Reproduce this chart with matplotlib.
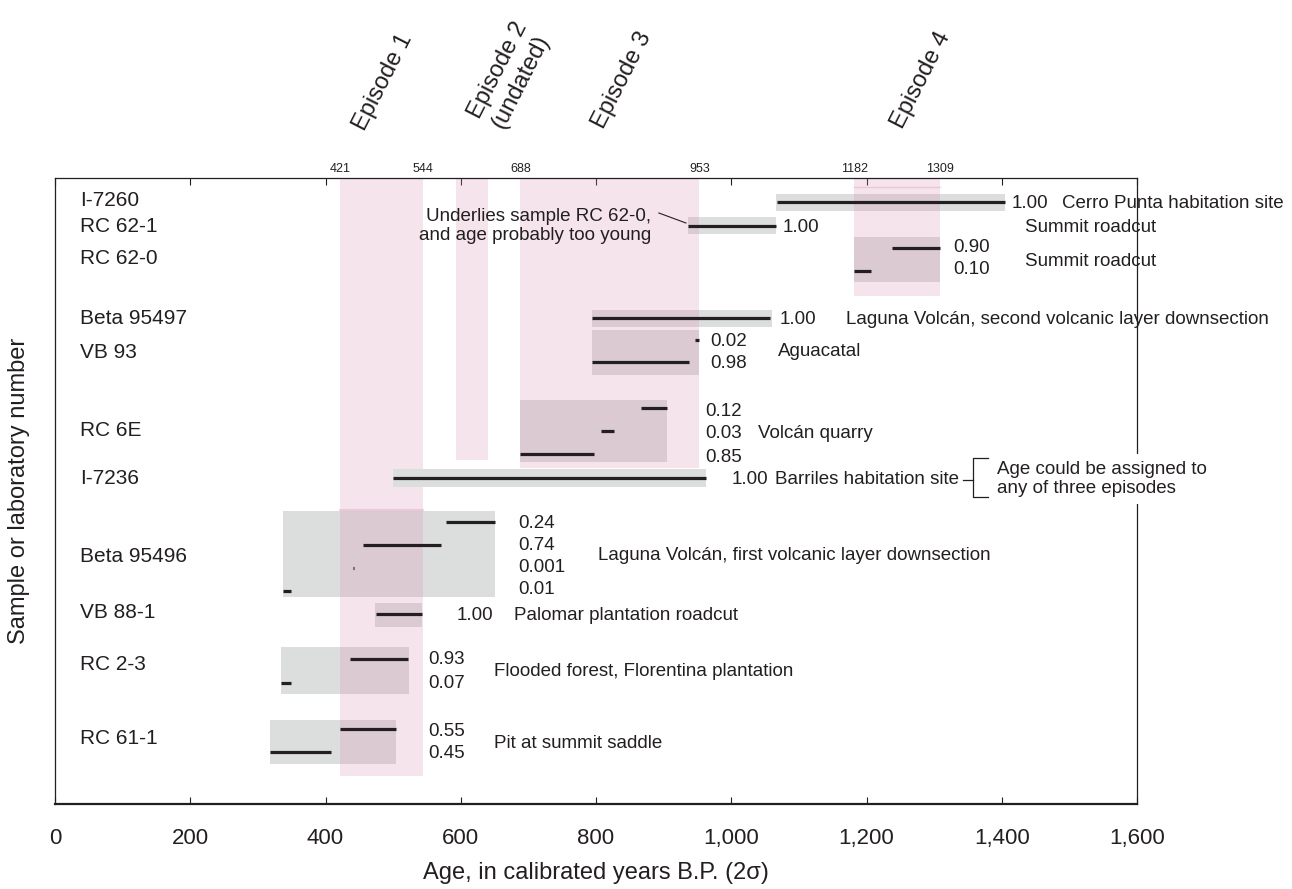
import matplotlib
matplotlib.use("Agg")
import matplotlib.pyplot as plt
from matplotlib.patches import Rectangle
from matplotlib.ticker import FuncFormatter

plt.rcParams['font.family'] = ['Liberation Sans', 'DejaVu Sans']

# ---- data -------------------------------------------------------------
samples = ["I-7260", "RC 62-1", "RC 62-0", "Beta 95497", "VB 93", "RC 6E",
           "I-7236", "Beta 95496", "VB 88-1", "RC 2-3", "RC 61-1"]

# full 2-sigma calibrated range of each sample (years B.P.)
range_lo = [1066, 936, 1181, 794, 794, 688, 500, 337, 473, 334, 318]
range_hi = [1405, 1066, 1309, 1060, 953, 905, 962, 650, 543, 523, 504]

# sub-intervals inside each range and their relative probabilities
intervals = [
    [(1068, 1405)],
    [(936, 1066)],
    [(1237, 1309), (1181, 1206)],
    [(794, 1058)],
    [(946, 953), (794, 937)],
    [(866, 905), (808, 826), (688, 797)],
    [(500, 962)],
    [(578, 650), (455, 571), (440.5, 442.5), (337, 349)],
    [(474, 542)],
    [(436, 522), (334, 349)],
    [(422, 504), (318, 408)],
]
probs = [
    ["1.00"], ["1.00"], ["0.90", "0.10"], ["1.00"], ["0.02", "0.98"],
    ["0.12", "0.03", "0.85"], ["1.00"], ["0.24", "0.74", "0.001", "0.01"],
    ["1.00"], ["0.93", "0.07"], ["0.55", "0.45"],
]
sites = ["Cerro Punta habitation site", "Summit roadcut", "Summit roadcut",
         "Laguna Volcán, second volcanic layer downsection", "Aguacatal",
         "Volcán quarry", "Barriles habitation site",
         "Laguna Volcán, first volcanic layer downsection",
         "Palomar plantation roadcut", "Flooded forest, Florentina plantation",
         "Pit at summit saddle"]

episodes = ["Episode 1", "Episode 2\n(undated)", "Episode 3", "Episode 4"]
ep_lo = [421, 593, 688, 1182]
ep_hi = [544, 640, 953, 1309]
ep_edges = [421, 544, 688, 953, 1182, 1309]

# ---- layout (y in pixel rows of the figure, x in years) ---------------
label_y = [201, 226, 258, 318, 352, 431, 479, 557, 612, 665, 738]
box_top = [194, 217, 237, 310, 330, 400, 469, 511, 603, 647, 720]
box_bot = [211, 234, 282, 327, 375, 462, 487, 597, 627, 694, 764]
line_y = [[202], [226], [248, 271], [318], [340, 362], [408, 431, 454], [478],
          [522, 545, 568, 591], [614], [659, 683], [729, 752]]
prob_x = [1415, 1076, 1328, 1072, 969, 961, 1000, 685, 594, 552, 552]
prob_y = [[203], [227], [248, 270], [319], [341, 363], [411, 434, 457], [479],
          [524, 546, 568, 590], [615], [660, 684], [731, 754]]
site_x = [1489, 1434, 1434, 1170, 1069, 1040, 1065, 803, 679, 649, 649]
site_y = [203, 227, 261, 319, 352, 433, 479, 555, 615, 671, 743]
ep_bottom = [776, 460, 468, 296]
ep_label_x = [485, 672, 838, 1281]
ep_label_y = [82, 76, 80, 80]

TOP, BOTTOM = 178, 804
dark = '#231f20'
gray = '#dcdddd'
pink = (0.86, 0.58, 0.70)

fig = plt.figure(figsize=(12.92, 8.89), dpi=100)
ax = fig.add_axes([55 / 1292, (889 - BOTTOM) / 889, 1082 / 1292, (BOTTOM - TOP) / 889])
ax.set_xlim(0, 1600)
ax.set_ylim(BOTTOM, TOP)

# gray boxes for the full ranges (I-7236 sits on top of the pink band)
for i in range(len(samples)):
    z = 2.5 if samples[i] == "I-7236" else 1
    ax.add_patch(Rectangle((range_lo[i], box_top[i]), range_hi[i] - range_lo[i],
                           box_bot[i] - box_top[i], fc=gray, ec='none', zorder=z))

# pink episode bands
for lo, hi, b in zip(ep_lo, ep_hi, ep_bottom):
    ax.add_patch(Rectangle((lo, TOP), hi - lo, b - TOP, fc=pink, alpha=0.25,
                           ec='none', zorder=2))
ax.plot([ep_lo[3], ep_hi[3]], [187, 187], color=pink, alpha=0.35, lw=1, zorder=2)
ax.plot([ep_lo[0], ep_hi[0]], [510, 510], color=pink, alpha=0.35, lw=1.5, zorder=2)

# interval lines, probabilities, site names
for i in range(len(samples)):
    for (a, b), y in zip(intervals[i], line_y[i]):
        ax.plot([a, b], [y, y], color=dark, lw=2.3, solid_capstyle='butt', zorder=3)
    for p, y in zip(probs[i], prob_y[i]):
        ax.text(prob_x[i], y, p, fontsize=13.5, va='center', ha='left', color=dark)
    ax.text(site_x[i], site_y[i], sites[i], fontsize=13.5, va='center', ha='left',
            color=dark)
    ax.text(0.023, label_y[i], samples[i], fontsize=15, va='center', ha='left',
            color=dark, transform=ax.get_yaxis_transform())

# note on RC 62-1
ax.text(882, 226, "Underlies sample RC 62-0,\nand age probably too young",
        fontsize=13.5, ha='right', va='center', ma='right', color=dark)
ax.plot([893, 933], [213, 223], color=dark, lw=0.8, zorder=3)

# bracket note on I-7236
ax.plot([1342, 1358], [480, 480], color=dark, lw=0.9, clip_on=False)
ax.plot([1380, 1358, 1358, 1380], [458, 458, 497, 497], color=dark, lw=0.9,
        clip_on=False)
ax.text(1393, 479, "Age could be assigned to\nany of three episodes", fontsize=13.5,
        ha='left', va='center', color=dark, zorder=5,
        bbox=dict(fc='white', ec='none', pad=5))

# episode labels above the plot
for x, y, t in zip(ep_label_x, ep_label_y, episodes):
    ax.text(x, y, t, fontsize=17, rotation=63, ha='center', va='center',
            ma='center', color=dark, clip_on=False)

# axes
ax.set_yticks([])
ax.set_xticks(range(0, 1601, 200))
ax.xaxis.set_major_formatter(FuncFormatter(lambda v, p: f"{int(v):,}"))
ax.tick_params(axis='x', direction='in', top=True, length=5, width=0.8,
               labelsize=16, pad=17, colors=dark)
for s in ['left', 'right', 'top']:
    ax.spines[s].set_linewidth(0.9)
    ax.spines[s].set_color(dark)
ax.spines['bottom'].set_linewidth(1.6)
ax.spines['bottom'].set_color(dark)

secax = ax.secondary_xaxis('top')
secax.set_xticks(ep_edges)
secax.tick_params(length=0, labelsize=9, pad=2, colors=dark)
secax.spines['top'].set_visible(False)

ax.set_xlabel("Age, in calibrated years B.P. (2σ)", fontsize=17, color=dark)
ax.xaxis.set_label_coords(0.5, -0.093)
ax.set_ylabel("Sample or laboratory number", fontsize=17, color=dark)
ax.yaxis.set_label_coords(-0.023, 0.5)

fig.savefig("out.png", dpi=100)
